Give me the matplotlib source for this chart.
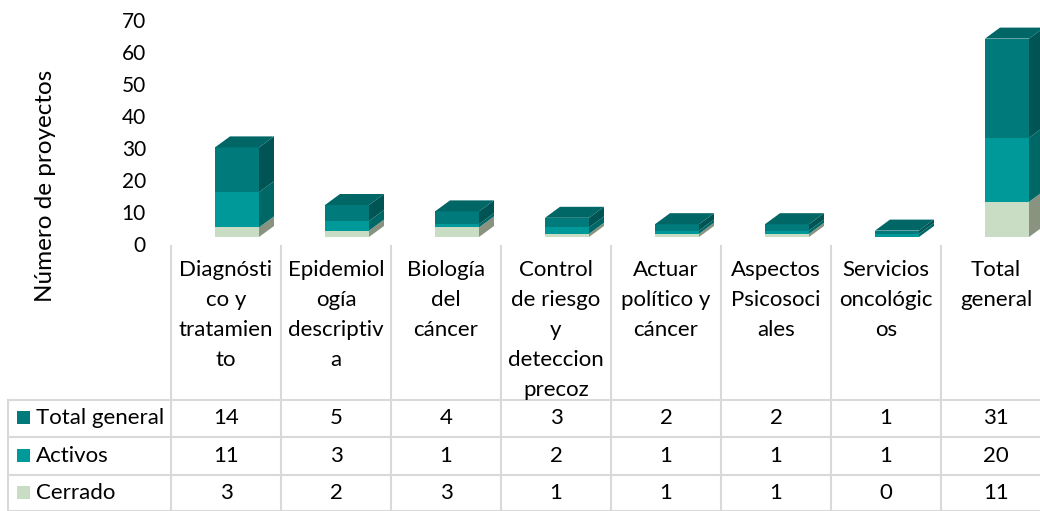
import numpy as np
import matplotlib
matplotlib.use("Agg")
import matplotlib.pyplot as plt
from matplotlib.patches import Polygon

plt.rcParams["font.family"] = ["Lato", "DejaVu Sans"]

categories = [
    "Diagnósti\nco y\ntratamien\nto",
    "Epidemiol\nogía\ndescriptiv\na",
    "Biología\ndel\ncáncer",
    "Control\nde riesgo\ny\ndeteccion\nprecoz",
    "Actuar\npolítico y\ncáncer",
    "Aspectos\nPsicosoci\nales",
    "Servicios\noncológic\nos",
    "Total\ngeneral",
]
cerrado = [3, 2, 3, 1, 1, 1, 0, 11]
activos = [11, 3, 1, 2, 1, 1, 1, 20]
total_general = [14, 5, 4, 3, 2, 2, 1, 31]

series = ["Total general", "Activos", "Cerrado"]
values = {"Total general": total_general, "Activos": activos, "Cerrado": cerrado}
front = {"Cerrado": "#C9DDC5", "Activos": "#009999", "Total general": "#007A7A"}
side = {"Cerrado": "#89937F", "Activos": "#006767", "Total general": "#005454"}
top_col = "#006666"

W, H = 1040, 511
fig = plt.figure(figsize=(W / 100, H / 100), dpi=100)

# pixel layout
x0, col_w = 171, 110
y_zero, px_per_unit = 246, 3.2
fs = 16

ax = fig.add_axes([x0 / W, 0, len(categories) * col_w / W, 1])
ax.set_xlim(-0.5, len(categories) - 0.5)
ax.set_ylim(-(H - y_zero) / px_per_unit, y_zero / px_per_unit)
ax.axis("off")

# 3D look
base = 9 / px_per_unit
dx, dy = 15 / col_w, 11 / px_per_unit
bl, br = -0.1, 0.3

for i in range(len(categories)):
    bottom = base
    for s in ["Cerrado", "Activos", "Total general"]:
        v = values[s][i]
        if v == 0:
            continue
        ax.add_patch(Polygon([(i + bl, bottom), (i + br, bottom), (i + br, bottom + v), (i + bl, bottom + v)],
                             closed=True, facecolor=front[s], edgecolor="none"))
        ax.add_patch(Polygon([(i + br, bottom), (i + br + dx, bottom + dy), (i + br + dx, bottom + v + dy),
                              (i + br, bottom + v)], closed=True, facecolor=side[s], edgecolor="none"))
        bottom += v
    ax.add_patch(Polygon([(i + bl, bottom), (i + bl + dx, bottom + dy), (i + br + dx, bottom + dy),
                          (i + br, bottom)], closed=True, facecolor=top_col, edgecolor="none"))

for t in range(0, 71, 10):
    ax.text(-0.5 - 25 / col_w, t, str(t), ha="right", va="center", fontsize=15, color="#000000")

# overlay for table, in pixels
ov = fig.add_axes([0, 0, 1, 1])
ov.set_xlim(0, W)
ov.set_ylim(H, 0)
ov.axis("off")
ov.patch.set_alpha(0)

grid = "#D9D9D9"
for i in range(len(categories) + 1):
    ov.plot([x0 + i * col_w] * 2, [y_zero, H], color=grid, lw=1.5)
ov.plot([8, 8], [400, H], color=grid, lw=1.5)
row_lines = [400, 437, 475, 511]
for y in row_lines:
    ov.plot([8, W], [y, y], color=grid, lw=1.5)

for i, c in enumerate(categories):
    ov.text(x0 + (i + 0.5) * col_w, 260, c, ha="center", va="top", fontsize=fs, linespacing=1.62)

for r, s in enumerate(series):
    yc = (row_lines[r] + row_lines[r + 1]) / 2
    ov.add_patch(plt.Rectangle((17, yc - 7), 13, 13, facecolor=front[s], edgecolor="none"))
    ov.text(36, yc, s, ha="left", va="center", fontsize=fs)
    for i, v in enumerate(values[s]):
        ov.text(x0 + (i + 0.5) * col_w, yc, str(v), ha="center", va="center", fontsize=fs)

fig.text(46 / W, 1 - 186 / H, "Número de proyectos", rotation=90, ha="center", va="center", fontsize=17.5)

fig.savefig("out.png", dpi=100)
